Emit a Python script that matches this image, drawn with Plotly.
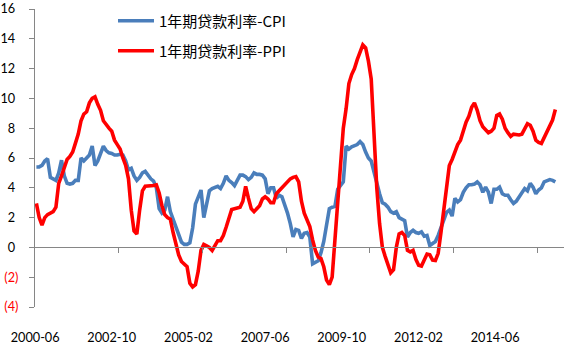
import plotly.graph_objects as go

# ---- data (monthly, starting 2000-06) ----
cpi_spread = [
    5.4, 5.4, 5.5, 5.8, 5.95, 4.7, 4.6, 4.5, 5.0, 5.85,
    4.8, 4.3, 4.25, 4.3, 4.5, 4.5, 6.0, 5.8, 6.0, 6.2,
    6.8, 5.5, 5.8, 6.4, 6.8, 6.5, 6.35, 6.3, 6.2, 6.2,
    6.25, 6.2, 5.8, 5.2, 5.3, 4.8, 4.5, 4.7, 5.0, 5.1,
    4.8, 4.6, 4.45, 4.0, 2.6, 2.3, 2.5, 3.4, 2.4, 1.9,
    1.3, 0.8, 0.35, 0.2, 0.2, 0.3, 1.3, 2.9, 3.4, 3.85,
    2.0, 3.0, 3.8, 3.95, 4.0, 4.1, 3.95, 4.3, 4.8, 4.5,
    4.35, 4.15, 4.5, 4.85, 4.85, 4.75, 4.55, 4.7, 5.0, 4.9,
    4.9, 4.85, 4.6, 3.6, 4.0, 4.0, 3.3, 3.5, 3.4, 2.9,
    2.3, 1.6, 0.7, 1.2, 1.14, 0.6, 0.95, 1.0, 0.7, -1.1,
    -1.0, -0.9, -0.35, 0.4, 1.5, 2.6, 2.7, 2.75, 3.9, 4.2,
    4.4, 6.8, 6.6, 6.75, 6.8, 6.9, 7.1, 6.9, 6.4, 6.0,
    5.8, 5.0, 4.2, 3.6, 3.0, 2.9, 2.7, 2.4, 2.3, 2.4,
    2.0, 1.9, 1.8, 0.7, 1.0, 1.15, 1.0, 0.95, 1.04, 0.75,
    0.8, 0.13, 0.25, 0.4, 0.8, 1.3, 1.9, 2.35, 2.5, 2.1,
    3.3, 3.05, 3.2, 3.7, 4.0, 4.2, 4.2, 4.25, 4.4, 4.2,
    3.7, 4.05, 3.7, 2.95, 3.9, 3.9, 4.05, 3.6, 3.5, 3.5,
    3.2, 2.95, 3.1, 3.4, 3.6, 3.95, 3.8, 4.3, 4.05, 3.6,
    3.85, 4.0, 4.4, 4.5, 4.55, 4.5, 4.4,
]
ppi_spread = [
    2.95, 2.0, 1.5, 2.0, 2.2, 2.3, 2.4, 2.7, 4.3, 4.8,
    5.3, 5.9, 6.1, 6.4, 7.0, 7.6, 8.5, 8.95, 9.1, 9.7,
    10.0, 10.1, 9.6, 9.2, 8.5, 8.2, 8.0, 7.8, 7.2, 6.9,
    6.6, 6.0, 5.5, 4.6, 2.5, 1.1, 0.9, 2.5, 3.8, 4.1,
    4.1, 4.1, 4.15, 4.2, 3.65, 2.8, 2.2, 2.0, 1.9, 1.0,
    0.2, -0.5, -0.95, -1.1, -1.3, -2.4, -2.65, -2.5, -1.6, -0.2,
    0.2, 0.1, 0.0, -0.2, 0.1, 0.45, 0.45, 0.8, 1.35, 2.0,
    2.55, 2.6, 2.65, 2.7, 3.1, 4.1, 3.3, 2.6, 2.4, 2.6,
    2.8, 3.25, 3.4, 3.25, 3.0, 3.0, 3.6, 3.8, 4.0, 4.2,
    4.4, 4.6, 4.7, 4.75, 4.4, 3.1, 2.3, 1.8, 1.4, 0.5,
    -0.2, -0.65, -0.75, -1.3, -2.2, -2.5, -2.0, 0.5, 3.2, 5.5,
    8.0, 9.3, 11.0, 11.6, 12.0, 12.6, 13.1, 13.6, 13.4, 12.5,
    11.3, 7.5, 4.0, 1.6, 0.0, -0.6, -1.1, -1.7, -1.5, 0.0,
    0.9, 1.0, 0.8, -0.2, -0.3, -0.2, -0.8, -1.2, -1.25, -0.8,
    -0.45, -0.5, -0.85, -0.88, -0.4, 1.0, 2.5, 4.4, 5.5, 5.9,
    6.4, 6.9, 7.2, 7.9, 8.4, 8.8, 9.4, 9.7, 9.2, 8.5,
    8.1, 7.9, 7.7, 7.8, 8.0, 8.85, 8.95, 8.6, 8.0, 7.7,
    7.45, 7.6, 7.55, 7.55, 7.6, 7.95, 8.3, 8.2, 7.8, 7.2,
    7.05, 6.98, 7.4, 7.8, 8.2, 8.55, 9.25,
]
series_names = ["1年期贷款利率-CPI", "1年期贷款利率-PPI"]
x_labels = ["2000-06", "2002-10", "2005-02", "2007-06", "2009-10", "2012-02", "2014-06"]
label_step = 28          # months between category labels
tick_step = 30           # months between tick marks
y_ticks = [-4, -2, 0, 2, 4, 6, 8, 10, 12, 14, 16]

months = list(range(len(cpi_spread)))
n_cat = 189.6
x_range = [-0.5, n_cat - 0.5]

AX = "#868686"
FONT = "Lato, 'Open Sans', sans-serif"
LEG_FONT = "'Noto Sans CJK SC', sans-serif"


def ylab(v):
    if v < 0:
        return f"<span style='color:#FF0000'>({abs(v)})</span>"
    return f"{v}\u00a0"


fig = go.Figure()
fig.add_trace(go.Scatter(x=months, y=cpi_spread, mode="lines", name=series_names[0],
                         line=dict(color="#4A7EBB", width=3.6), legend="legend"))
fig.add_trace(go.Scatter(x=months, y=ppi_spread, mode="lines", name=series_names[1],
                         line=dict(color="#FF0000", width=3.6), legend="legend2"))
# helper (empty) traces so the overlay axes get drawn
fig.add_trace(go.Scatter(x=[None], y=[None], xaxis="x2", showlegend=False, hoverinfo="skip"))
fig.add_trace(go.Scatter(x=[None], y=[None], xaxis="x3", showlegend=False, hoverinfo="skip"))

tick_positions = [k * tick_step - 0.5 for k in range(1, 7)]
label_positions = [k * label_step for k in range(len(x_labels))]

PLOT_L, PLOT_R, PLOT_T, PLOT_B = 35, 564, 9, 307


def px_x(p):
    return (p - PLOT_L) / (PLOT_R - PLOT_L)


def px_y(p):
    return (PLOT_B - p) / (PLOT_B - PLOT_T)


fig.update_layout(
    width=569, height=347,
    margin=dict(l=PLOT_L, r=569 - PLOT_R, t=PLOT_T, b=347 - PLOT_B, autoexpand=False),
    paper_bgcolor="white", plot_bgcolor="white",
    font=dict(family=FONT, size=12, color="#000000"),
    hovermode=False,
    xaxis=dict(range=x_range, visible=False, showgrid=False, zeroline=False),
    xaxis2=dict(overlaying="x", anchor="free", position=0.2, range=x_range,
                tickmode="array", tickvals=tick_positions, showticklabels=False,
                ticks="outside", ticklen=5, tickcolor=AX, tickwidth=1,
                showline=True, linecolor=AX, linewidth=1, showgrid=False, zeroline=False),
    xaxis3=dict(overlaying="x", anchor="y", side="bottom", range=[-0.05, 193.15],
                tickmode="array", tickvals=label_positions, ticktext=x_labels, tickangle=0,
                ticks="", showline=False, showgrid=False, zeroline=False,
                ticklabelstandoff=21, tickfont=dict(family=FONT, size=12.7, color="#000000")),
    yaxis=dict(range=[-4, 16], tickmode="array", tickvals=y_ticks,
               ticktext=[ylab(v) for v in y_ticks],
               ticks="outside", ticklen=5, tickcolor=AX, showline=True, linecolor=AX,
               linewidth=1, showgrid=False, zeroline=False, ticklabelstandoff=8,
               tickfont=dict(family=FONT, size=12.7, color="#000000")),
    legend=dict(x=px_x(113), y=px_y(21), xanchor="left", yanchor="middle",
                bgcolor="rgba(0,0,0,0)", itemwidth=36,
                font=dict(family=LEG_FONT, size=15, color="#000000")),
    legend2=dict(x=px_x(113), y=px_y(51), xanchor="left", yanchor="middle",
                 bgcolor="rgba(0,0,0,0)", itemwidth=36,
                 font=dict(family=LEG_FONT, size=15, color="#000000")),
)

fig.write_html("out.html")
